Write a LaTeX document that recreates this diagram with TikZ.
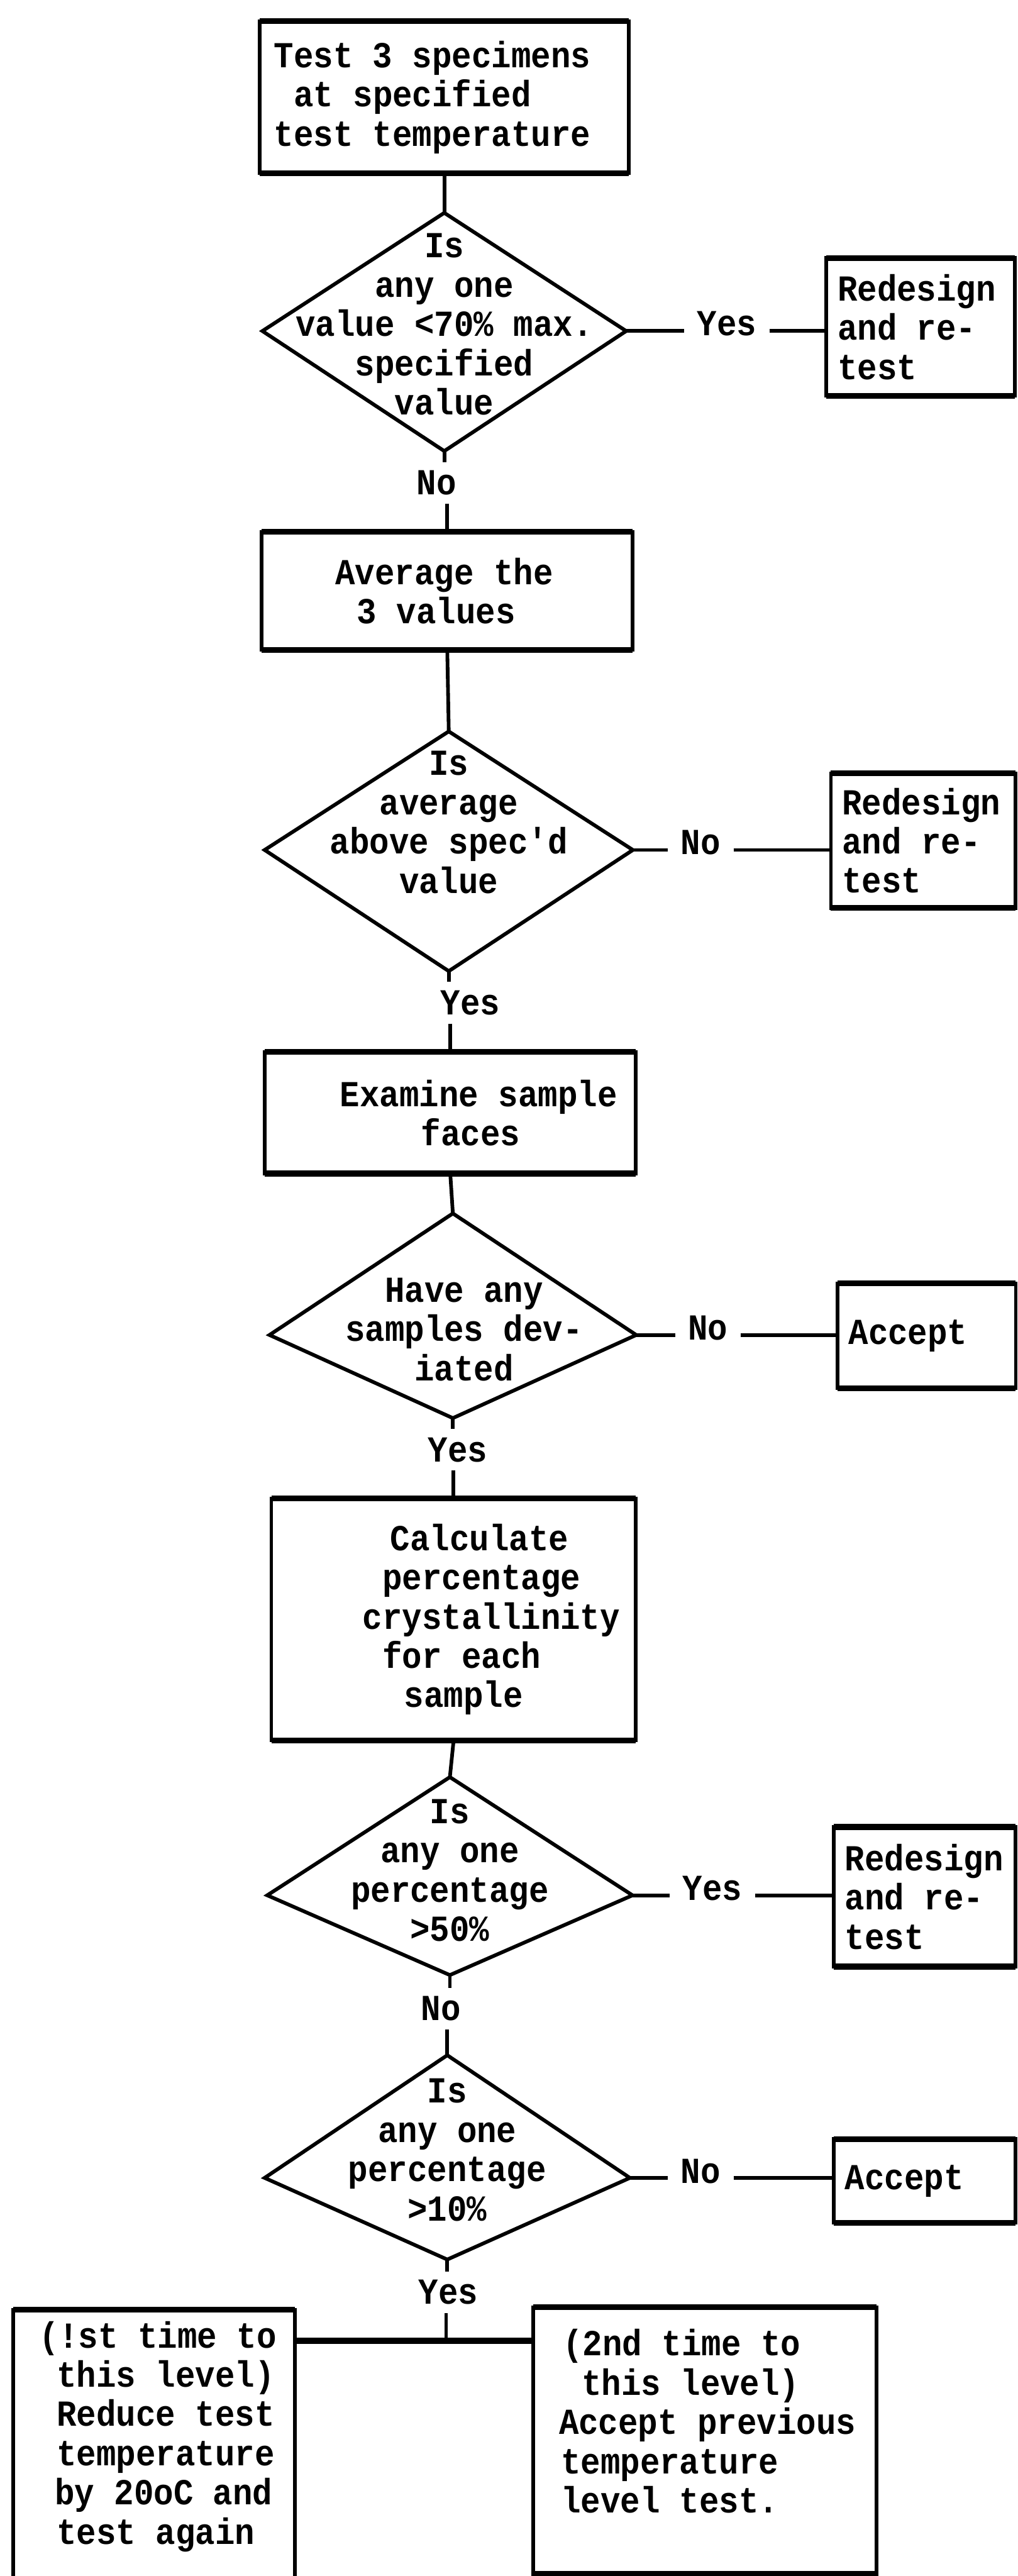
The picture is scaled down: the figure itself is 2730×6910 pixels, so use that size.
\documentclass[tikz,border=0pt]{standalone}
\usepackage{fontspec}
\setmonofont{Liberation Mono}[FakeStretch=0.9]
\newcommand{\chartfont}{\ttfamily\bfseries\fontsize{14}{15}\selectfont}
\newcommand{\ind}[1]{\hspace*{#1\fontcharwd\font`0}}
% decision: name, x, y, half width, up, down, text shift, text
\newcommand{\decision}[8]{%
  \path (#2,#3) coordinate (#1c)
        (#2,#3) ++(0,-#5) coordinate (#1n)
        (#2,#3) ++(#4,0) coordinate (#1e)
        (#2,#3) ++(0,#6) coordinate (#1s)
        (#2,#3) ++(-#4,0) coordinate (#1w);
  \draw (#1n) -- (#1e) -- (#1s) -- (#1w) -- cycle;
  \node[dtext] (#1) at ([shift={#7}]#1c) {#8};
}

\begin{document}
\begin{tikzpicture}[x=0.005cm, y=-0.005cm, line width=1.4pt,
  box/.style={draw, outer sep=0pt, inner xsep=0.19cm, inner ysep=0pt, align=flush left, font=\chartfont,
    execute at begin node={\spaceskip=\fontcharwd\font`0\relax\xspaceskip=\spaceskip}},
  side/.style={box, inner xsep=0.15cm},
  dtext/.style={align=center, inner sep=0pt, font=\chartfont},
  lbl/.style={inner xsep=0.15cm, inner ysep=0.09cm, font=\chartfont},
  heavy/.style={line width=2.2pt}]

\useasboundingbox (0,0) rectangle (2730,6910);

\node[box, minimum width=4.955cm, minimum height=2.04cm, text width=4.575cm] (b1) at (1192,261)
  {Test 3 specimens\\\ind{1}at specified\\test temperature};
\node[box, minimum width=4.98cm, minimum height=1.585cm, text width=4.6cm] (b2) at (1200,1585)
  {\ind{3}Average the\\\ind{4.1}3 values};
\node[box, minimum width=4.985cm, minimum height=1.63cm, text width=4.605cm] (b3) at (1208,2985)
  {\ind{3.1}Examine sample\\\ind{7.2}faces};
\node[box, minimum width=4.895cm, minimum height=3.25cm, text width=4.515cm] (b4) at (1217,4344)
  {\ind{5.3}Calculate\\\ind{4.9}percentage\\\ind{3.9}crystallinity\\\ind{4.9}for each\\\ind{6}sample};

\node[side, minimum width=2.53cm, minimum height=1.85cm, text width=2.23cm] (r1) at (2470,877)
  {Redesign\\and re-\\test};
\node[side, minimum width=2.48cm, minimum height=1.81cm, text width=2.18cm] (r2) at (2477,2255)
  {Redesign\\and re-\\test};
\node[side, minimum width=2.395cm, minimum height=1.405cm, text width=2.095cm] (a1) at (2486,3583)
  {Accept};
\node[side, minimum width=2.44cm, minimum height=1.875cm, text width=2.14cm] (r3) at (2481,5088)
  {Redesign\\and re-\\test};
\node[side, minimum width=2.44cm, minimum height=1.125cm, text width=2.14cm] (a2) at (2481,5850)
  {Accept};

\node[box, minimum width=3.785cm, minimum height=3.825cm, text width=3.405cm] (lb) at (413,6578)
  {\ind{0.6}(!st time to\\\ind{1.5}this level)\\\ind{1.5}Reduce test\\\ind{1.5}temperature\\\ind{1.4}by 20oC and\\\ind{1.5}test again\\\mbox{}};
\node[box, minimum width=4.615cm, minimum height=3.58cm, text width=4.235cm] (rb) at (1891,6547)
  {\ind{0.8}(2nd time to\\\ind{1.75}this level)\\\ind{0.6}Accept previous\\\ind{0.7}temperature\\\ind{0.7}level test.\\\mbox{}};

\foreach \b in {b1,b2,b3,b4,r1,r2,a1,r3,a2,lb,rb}
  \draw[heavy] (\b.north west) -- (\b.north east) (\b.south west) -- (\b.south east);

\decision{d1}{1192}{888}{488}{317}{322}{(0,-18)}{Is\\any one\\value <70\% max.\\specified\\value}
\decision{d2}{1204}{2280}{494}{318}{325}{(0,-74)}{Is\\average\\above spec'd\\value}
\decision{d3}{1215}{3581}{492}{326}{223}{(30,-15)}{Have any\\samples dev-\\iated}
\decision{d4}{1207}{5084}{490}{317}{214}{(0,-67)}{Is\\any one\\percentage\\>50\%}
\decision{d5}{1200}{5842}{490}{329}{219}{(0,-75)}{Is\\any one\\percentage\\>10\%}

\node[lbl] (no1) at (1171,1295) {No};
\node[lbl] (yes1) at (1950,868) {Yes};
\node[lbl] (yes2) at (1262,2690) {Yes};
\node[lbl] (no2) at (1880,2260) {No};
\node[lbl] (yes3) at (1228,3889) {Yes};
\node[lbl] (no3) at (1899,3563) {No};
\node[lbl] (no4) at (1183,5388) {No};
\node[lbl] (yes4) at (1911,5066) {Yes};
\node[lbl] (yes5) at (1203,6149) {Yes};
\node[lbl] (no5) at (1880,5825) {No};
\coordinate (j) at (1197,6279);

\draw (b1.south) -- (d1n);
\draw (d1s) -- (d1s |- no1.north);
\draw (no1.south -| b2.north) -- (b2.north);
\draw (d1e) -- (d1e -| yes1.west);
\draw (yes1.east |- d1e) -- (r1.west |- d1e);

\draw (b2.south) -- (d2n);
\draw (d2s) -- (d2s |- yes2.north);
\draw (yes2.south -| b3.north) -- (b3.north);
\draw (d2e) -- (d2e -| no2.west);
\draw (no2.east |- d2e) -- (r2.west |- d2e);

\draw (b3.south) -- (d3n);
\draw (d3s) -- (d3s |- yes3.north);
\draw (yes3.south -| b4.north) -- (b4.north);
\draw (d3e) -- (d3e -| no3.west);
\draw (no3.east |- d3e) -- (a1.west |- d3e);

\draw (b4.south) -- (d4n);
\draw (d4s) -- (d4s |- no4.north);
\draw (no4.south -| d5n) -- (d5n);
\draw (d4e) -- (d4e -| yes4.west);
\draw (yes4.east |- d4e) -- (r3.west |- d4e);

\draw (d5s) -- (d5s |- yes5.north);
\draw (yes5.south -| j) -- (j);
\draw[heavy] (lb.east |- j) -- (rb.west |- j);
\draw (d5e) -- (d5e -| no5.west);
\draw (no5.east |- d5e) -- (a2.west |- d5e);

\end{tikzpicture}
\end{document}
